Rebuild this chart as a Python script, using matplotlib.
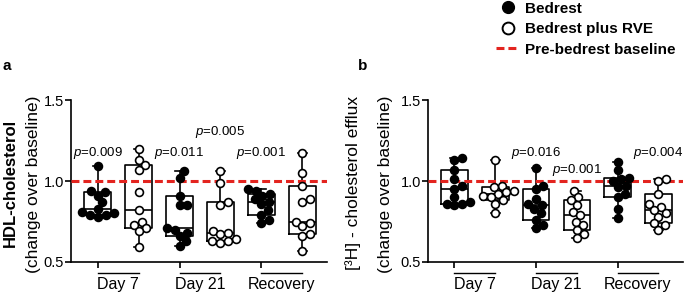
import numpy as np
import matplotlib
matplotlib.use("Agg")
import matplotlib.pyplot as plt
from matplotlib.lines import Line2D
import matplotlib.transforms as mtransforms

plt.rcParams['font.family'] = ['Liberation Sans', 'DejaVu Sans']
plt.rcParams['mathtext.fontset'] = 'custom'
plt.rcParams['mathtext.rm'] = 'Liberation Sans'
plt.rcParams['mathtext.it'] = 'Liberation Sans:italic'

# group labels
groups = ['Day 7', 'Day 21', 'Recovery']

# panel a: HDL-cholesterol, change over baseline
hdl_bed_d7 = [1.09, 0.94, 0.93, 0.91, 0.87, 0.83, 0.81, 0.80, 0.79, 0.79, 0.78]
hdl_rve_d7 = [1.20, 1.13, 1.10, 1.07, 0.93, 0.82, 0.75, 0.73, 0.71, 0.69, 0.59]
hdl_bed_d21 = [1.06, 1.02, 0.91, 0.85, 0.85, 0.71, 0.70, 0.68, 0.66, 0.63, 0.60]
hdl_rve_d21 = [1.06, 0.99, 0.87, 0.85, 0.69, 0.68, 0.67, 0.64, 0.63, 0.63, 0.62]
hdl_bed_rec = [0.95, 0.94, 0.92, 0.91, 0.89, 0.87, 0.86, 0.82, 0.79, 0.76, 0.74]
hdl_rve_rec = [1.17, 1.05, 0.97, 0.89, 0.87, 0.75, 0.74, 0.72, 0.67, 0.66, 0.57]

# panel b: [3H]-cholesterol efflux, change over baseline
eff_bed_d7 = [1.14, 1.13, 1.07, 1.01, 0.97, 0.95, 0.90, 0.87, 0.86, 0.86, 0.85]
eff_rve_d7 = [1.13, 0.97, 0.96, 0.94, 0.93, 0.92, 0.91, 0.90, 0.88, 0.86, 0.80]
eff_bed_d21 = [1.08, 0.97, 0.95, 0.89, 0.86, 0.85, 0.83, 0.80, 0.76, 0.73, 0.71]
eff_rve_d21 = [0.94, 0.90, 0.88, 0.85, 0.81, 0.79, 0.75, 0.73, 0.70, 0.67, 0.65]
eff_bed_rec = [1.12, 1.07, 1.02, 1.01, 1.00, 0.97, 0.96, 0.92, 0.90, 0.83, 0.77]
eff_rve_rec = [1.01, 1.00, 0.92, 0.86, 0.84, 0.82, 0.80, 0.78, 0.74, 0.73, 0.70]

# p-values: (box index, label, y)
hdl_pvals = [(1, '0.009', 1.17), (3, '0.011', 1.17), (4, '0.005', 1.30), (5, '0.001', 1.17)]
eff_pvals = [(3, '0.016', 1.17), (4, '0.001', 1.07), (6, '0.004', 1.17)]

RED = '#e3241f'


def swarm_offsets(values, diam=7.8, xscale=41.0, yscale=162.0):
    # simple beeswarm in pixel space, returns x offsets in data units
    values = np.asarray(values)
    placed = []
    offs = np.zeros(len(values))
    cands = [0.0]
    for k in range(1, 40):
        cands += [k * 0.5, -k * 0.5]
    for i in np.argsort(values):
        y = values[i] * yscale
        for c in cands:
            if all((c - px) ** 2 + (y - py) ** 2 >= diam ** 2 for px, py in placed):
                break
        placed.append((c, y))
        offs[i] = c / xscale
    return offs


def box_stats(v):
    v = np.asarray(v)
    q1, med, q3 = np.percentile(v, [25, 50, 75], method='weibull')
    return dict(med=med, q1=q1, q3=q3, whislo=v.min(), whishi=v.max(), fliers=[])


def draw_panel(ax, series, pvals, ylabel1, ylabel2, bold1, lx1, lx2):
    pos = np.arange(1, len(series) + 1)
    ax.bxp([box_stats(s) for s in series], positions=pos, widths=0.65,
           capwidths=0.22, showfliers=False, patch_artist=False,
           boxprops=dict(color='black', lw=1.2),
           whiskerprops=dict(color='black', lw=1.2),
           capprops=dict(color='black', lw=1.2),
           medianprops=dict(color='black', lw=1.2), zorder=2)
    ax.axhline(1.0, color=RED, lw=2.2, ls=(0, (2.6, 1.3)), zorder=3)
    for i, s in enumerate(series):
        x = pos[i] + swarm_offsets(s)
        face = 'black' if i % 2 == 0 else 'white'
        ax.scatter(x, s, s=32, facecolor=face, edgecolor='black', lw=1.2, zorder=4)
    for idx, lab, y in pvals:
        ax.text(idx, y, r'$p$=' + lab, ha='center', va='center', fontsize=9.5)

    ax.set_xlim(0.35, 6.6)
    ax.set_ylim(0.5, 1.5)
    ax.set_yticks([0.5, 1.0, 1.5])
    ax.set_yticklabels(['0.5', '1.0', '1.5'])
    ax.set_xticks(pos[::2])
    ax.set_xticklabels([])
    ax.tick_params(axis='both', width=1.2, length=4, labelsize=10.5, pad=1)
    for sp in ['top', 'right']:
        ax.spines[sp].set_visible(False)
    for sp in ['left', 'bottom']:
        ax.spines[sp].set_linewidth(1.2)

    # group labels with underline
    trans = mtransforms.blended_transform_factory(ax.transData, ax.transAxes)
    for g, name in enumerate(groups):
        a, b = pos[2 * g], pos[2 * g + 1]
        ax.plot([a, b], [-0.066, -0.066], color='black', lw=1.0,
                transform=trans, clip_on=False)
        ax.text((a + b) / 2, -0.09, name, ha='center', va='top',
                fontsize=11.5, transform=trans)

    ax.text(lx1, 0.49, ylabel1, rotation=90, ha='center', va='center',
            fontsize=12 if bold1 else 12.5,
            fontweight='bold' if bold1 else 'normal', transform=ax.transAxes)
    ax.text(lx2, 0.48, ylabel2, rotation=90, ha='center',
            va='center', fontsize=12.5, transform=ax.transAxes)


fig = plt.figure(figsize=(6.85, 2.95), dpi=100)
ax_a = fig.add_axes([0.1036, 0.1119, 0.3737, 0.549])
ax_b = fig.add_axes([0.6248, 0.1119, 0.372, 0.549])

draw_panel(ax_a, [hdl_bed_d7, hdl_rve_d7, hdl_bed_d21, hdl_rve_d21, hdl_bed_rec, hdl_rve_rec],
           hdl_pvals, 'HDL-cholesterol', '(change over baseline)', True, -0.238, -0.148)
draw_panel(ax_b, [eff_bed_d7, eff_rve_d7, eff_bed_d21, eff_rve_d21, eff_bed_rec, eff_rve_rec],
           eff_pvals, '[³H] - cholesterol efflux', '(change over baseline)', False, -0.294, -0.165)

fig.text(0.003, 0.775, 'a', fontsize=11, fontweight='bold', va='center')
fig.text(0.522, 0.775, 'b', fontsize=11, fontweight='bold', va='center')

handles = [Line2D([], [], ls='none', marker='o', ms=8.5, mfc='black', mec='black'),
           Line2D([], [], ls='none', marker='o', ms=8.5, mfc='white', mec='black', mew=1.4),
           Line2D([], [], color=RED, lw=2.2, ls=(0, (2.6, 1.3)))]
fig.legend(handles, ['Bedrest', 'Bedrest plus RVE', 'Pre-bedrest baseline'],
           loc='upper left', bbox_to_anchor=(0.709, 1.03), frameon=False,
           prop=dict(weight='bold', size=11), handlelength=1.5,
           handletextpad=0.4, labelspacing=0.42, borderpad=0.2)

fig.savefig('out.png', dpi=100)
